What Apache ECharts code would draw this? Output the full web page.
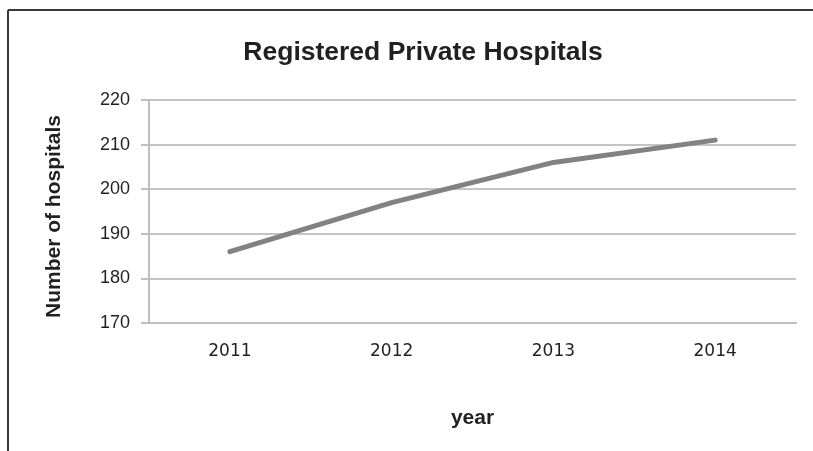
<!DOCTYPE html>
<html>
<head>
<meta charset="utf-8">
<script src="https://cdn.jsdelivr.net/npm/echarts@6/dist/echarts.min.js"></script>
<style>
html,body{margin:0;padding:0;background:#fff;}
#chart{width:813px;height:451px;}
</style>
</head>
<body>
<div id="chart"></div>
<script>
const years = ['2011', '2012', '2013', '2014'];
const hospitals = [186, 197, 206, 211];
const yMin = 170, yMax = 220, yStep = 10;

const chart = echarts.init(document.getElementById('chart'));
const boldFont = '"Liberation Sans", Arial, sans-serif';
const regular = '"Liberation Sans", Arial, sans-serif';
chart.setOption({
  animation: false,
  backgroundColor: '#ffffff',
  title: {
    text: 'Registered Private Hospitals',
    left: 418, textAlign: 'center', top: 34,
    textStyle: {fontFamily: boldFont, fontWeight: 'bold', fontSize: 26.5, color: '#231f20'}
  },
  graphic: [
    {type: 'line', shape: {x1: 8, y1: 10, x2: 813, y2: 10}, style: {stroke: '#3a3a3a', lineWidth: 2}},
    {type: 'line', shape: {x1: 8, y1: 10, x2: 8, y2: 451}, style: {stroke: '#3a3a3a', lineWidth: 2}}
  ],
  grid: {left: 149, right: 17, top: 100, bottom: 128, containLabel: false},
  xAxis: {
    type: 'category', data: years, boundaryGap: true,
    name: 'year', nameLocation: 'middle', nameGap: 85,
    nameTextStyle: {fontFamily: boldFont, fontWeight: 'bold', fontSize: 21, color: '#231f20'},
    axisLine: {show: true, lineStyle: {color: '#bfbfbf', width: 2}},
    axisTick: {show: false},
    axisLabel: {fontFamily: '"DejaVu Sans", sans-serif', fontSize: 17, color: '#231f20', margin: 20}
  },
  yAxis: {
    type: 'value', min: yMin, max: yMax, interval: yStep,
    name: 'Number of hospitals', nameLocation: 'middle', nameGap: 84,
    nameTextStyle: {fontFamily: boldFont, fontWeight: 'bold', fontSize: 21, color: '#231f20', padding: [0, 10, 0, 0]},
    axisLine: {show: true, lineStyle: {color: '#bfbfbf', width: 2}},
    axisTick: {show: true, length: 8, lineStyle: {color: '#bfbfbf', width: 2}},
    splitLine: {show: true, lineStyle: {color: '#c4c4c4', width: 2}},
    axisLabel: {fontFamily: regular, fontSize: 18, color: '#231f20', margin: 19}
  },
  series: [{
    type: 'line', data: hospitals, symbol: 'none',
    lineStyle: {color: '#818285', width: 5, cap: 'round', join: 'round'}
  }]
});
</script>
</body>
</html>
